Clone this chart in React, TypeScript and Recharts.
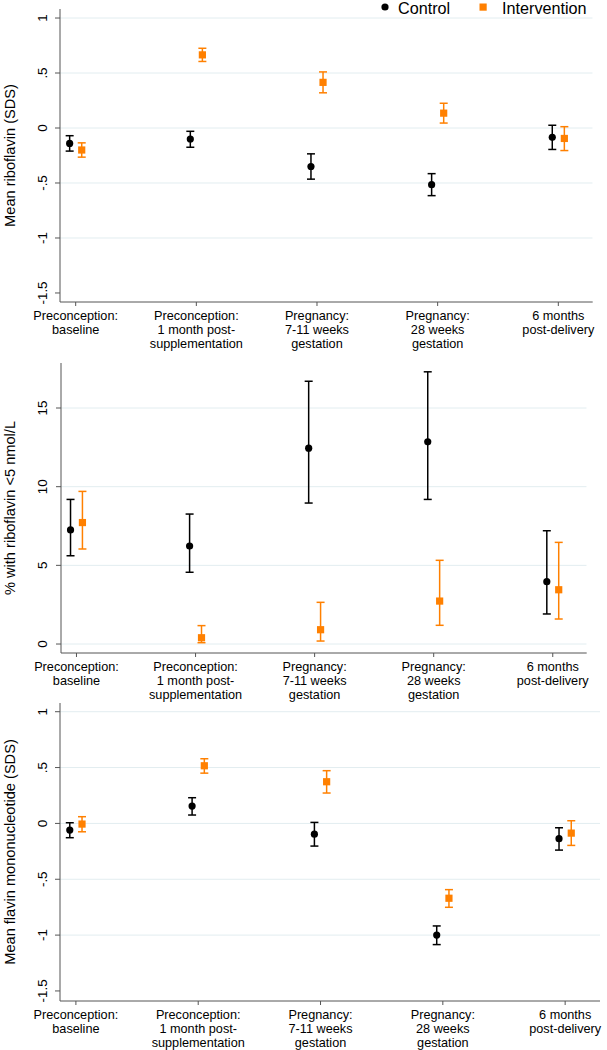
import React from "react";
import { ScatterChart, Scatter, XAxis, YAxis, ErrorBar, ReferenceLine } from "recharts";

// ---- categories / tick labels ----
const categories: string[][] = [
  ["Preconception:", "baseline"],
  ["Preconception:", "1 month post-", "supplementation"],
  ["Pregnancy:", "7-11 weeks", "gestation"],
  ["Pregnancy:", "28 weeks", "gestation"],
  ["6 months", "post-delivery"],
];
const categoryTicks = [1, 2, 3, 4, 5];

// ---- Panel 1: Mean riboflavin (SDS) ----
const riboControlMean = [-0.14, -0.10, -0.35, -0.515, -0.085];
const riboControlLo = [-0.21, -0.175, -0.465, -0.615, -0.195];
const riboControlHi = [-0.07, -0.03, -0.235, -0.415, 0.025];
const riboInterMean = [-0.20, 0.665, 0.415, 0.135, -0.095];
const riboInterLo = [-0.265, 0.605, 0.32, 0.045, -0.205];
const riboInterHi = [-0.135, 0.725, 0.51, 0.225, 0.012];
const sdsTicks = [-1.5, -1, -0.5, 0, 0.5, 1];
const sdsGrid = [-1, -0.5, 0, 0.5, 1];

// ---- Panel 2: % with riboflavin <5 nmol/L ----
const pctControlMean = [7.25, 6.23, 12.45, 12.85, 3.96];
const pctControlLo = [5.61, 4.56, 8.96, 9.19, 1.91];
const pctControlHi = [9.19, 8.26, 16.7, 17.3, 7.2];
const pctInterMean = [7.72, 0.4, 0.91, 2.73, 3.45];
const pctInterLo = [6.04, 0.085, 0.19, 1.19, 1.59];
const pctInterHi = [9.7, 1.17, 2.65, 5.32, 6.46];
const pctTicks = [0, 5, 10, 15];
const pctGrid = [0, 5, 10, 15];

// ---- Panel 3: Mean flavin mononucleotide (SDS) ----
const fmnControlMean = [-0.06, 0.155, -0.096, -1.0, -0.137];
const fmnControlLo = [-0.128, 0.075, -0.203, -1.085, -0.239];
const fmnControlHi = [0.006, 0.23, 0.009, -0.918, -0.039];
const fmnInterMean = [-0.006, 0.516, 0.373, -0.67, -0.087];
const fmnInterLo = [-0.075, 0.45, 0.272, -0.751, -0.197];
const fmnInterHi = [0.06, 0.579, 0.472, -0.593, 0.024];

const CONTROL = "#000000";
const INTERVENTION = "#ff8000";
const AXIS = "#555555";
const GRID = "#e2edf0";
const FONT = "'Liberation Sans', Arial, Helvetica, sans-serif";
const GROUP_OFFSET = 0.05;

function build(mean: number[], lo: number[], hi: number[], offset: number) {
  return mean.map((m, i) => ({
    x: categoryTicks[i] + offset,
    y: m,
    err: [m - lo[i], hi[i] - m],
  }));
}

const fmtSds = (v: number) => {
  if (v === 0) return "0";
  const s = String(v);
  return s.replace(/^(-?)0\./, "$1.");
};

const XTick = (props: any) => {
  const { x, y, payload } = props;
  const lines = categories[Math.round(payload.value) - 1] || [];
  return (
    <g>
      {lines.map((l, i) => (
        <text
          key={i}
          x={x}
          y={y + 13.5 + i * 14.2}
          textAnchor="middle"
          fontSize={12.7}
          fill="#000"
          fontFamily={FONT}
        >
          {l}
        </text>
      ))}
    </g>
  );
};

const makeYTick = (fmt: (v: number) => string) => (props: any) => {
  const { y, payload } = props;
  const bx = 47;
  return (
    <text
      x={bx}
      y={y}
      transform={`rotate(-90 ${bx} ${y})`}
      textAnchor="middle"
      fontSize={13.4}
      fill="#000"
      fontFamily={FONT}
    >
      {fmt(payload.value)}
    </text>
  );
};

const makeYLabel = (title: string) => (props: any) => {
  const vb = props.viewBox || {};
  const cy = (vb.y || 0) + (vb.height || 0) / 2;
  const bx = 15;
  return (
    <text
      x={bx}
      y={cy}
      transform={`rotate(-90 ${bx} ${cy})`}
      textAnchor="middle"
      fontSize={14.6}
      fill="#000"
      fontFamily={FONT}
    >
      {title}
    </text>
  );
};

const CircleShape = (p: any) => <circle cx={p.cx} cy={p.cy} r={3.6} fill={CONTROL} />;
const SquareShape = (p: any) => (
  <rect x={p.cx - 3.6} y={p.cy - 3.6} width={7.2} height={7.2} fill={INTERVENTION} />
);

type PanelProps = {
  top: number;
  height: number;
  marginTop: number;
  marginRight: number;
  yWidth: number;
  xHeight: number;
  domain: [number, number];
  ticks: number[];
  grid: number[];
  fmt: (v: number) => string;
  title: string;
  control: any[];
  inter: any[];
};

function Panel(p: PanelProps) {
  return (
    <div style={{ position: "absolute", left: 0, top: p.top }}>
      <ScatterChart
        width={607}
        height={p.height}
        margin={{ top: p.marginTop, right: p.marginRight, bottom: 0, left: 0 }}
      >
        {p.grid.map((g) => (
          <ReferenceLine key={g} y={g} stroke={GRID} strokeWidth={1} ifOverflow="hidden" />
        ))}
        <XAxis
          type="number"
          dataKey="x"
          domain={[0.87, 5.285]}
          ticks={categoryTicks}
          interval={0}
          allowDataOverflow
          height={p.xHeight}
          tick={<XTick />}
          tickSize={4}
          tickMargin={0}
          stroke={AXIS}
          tickLine={{ stroke: AXIS }}
        />
        <YAxis
          type="number"
          dataKey="y"
          domain={p.domain}
          ticks={p.ticks}
          interval={0}
          allowDataOverflow
          width={p.yWidth}
          tick={makeYTick(p.fmt)}
          tickSize={5}
          tickMargin={0}
          stroke={AXIS}
          tickLine={{ stroke: AXIS }}
          label={{ content: makeYLabel(p.title) } as any}
        />
        <Scatter data={p.control} shape={CircleShape} isAnimationActive={false}>
          <ErrorBar dataKey="err" direction="y" width={4} stroke={CONTROL} strokeWidth={1.5} isAnimationActive={false} />
        </Scatter>
        <Scatter data={p.inter} shape={SquareShape} isAnimationActive={false}>
          <ErrorBar dataKey="err" direction="y" width={4} stroke={INTERVENTION} strokeWidth={1.5} isAnimationActive={false} />
        </Scatter>
      </ScatterChart>
    </div>
  );
}

export default function App() {
  return (
    <div
      style={{
        position: "absolute",
        left: 0,
        top: 0,
        width: 607,
        height: 1050,
        background: "#fff",
        overflow: "hidden",
        fontFamily: FONT,
      }}
    >
      <Panel
        top={0}
        height={356}
        marginTop={9}
        marginRight={14.3}
        yWidth={60}
        xHeight={54}
        domain={[-1.582, 1.082]}
        ticks={sdsTicks}
        grid={sdsGrid}
        fmt={fmtSds}
        title="Mean riboflavin (SDS)"
        control={build(riboControlMean, riboControlLo, riboControlHi, -GROUP_OFFSET)}
        inter={build(riboInterMean, riboInterLo, riboInterHi, GROUP_OFFSET)}
      />
      <Panel
        top={350}
        height={358}
        marginTop={13}
        marginRight={20.3}
        yWidth={61}
        xHeight={55}
        domain={[-0.57, 17.86]}
        ticks={pctTicks}
        grid={pctGrid}
        fmt={(v) => String(v)}
        title="% with riboflavin <5 nmol/L"
        control={build(pctControlMean, pctControlLo, pctControlHi, -GROUP_OFFSET)}
        inter={build(pctInterMean, pctInterLo, pctInterHi, GROUP_OFFSET)}
      />
      <Panel
        top={700}
        height={350}
        marginTop={3}
        marginRight={7}
        yWidth={60}
        xHeight={49}
        domain={[-1.59, 1.078]}
        ticks={sdsTicks}
        grid={sdsGrid}
        fmt={fmtSds}
        title="Mean flavin mononucleotide (SDS)"
        control={build(fmnControlMean, fmnControlLo, fmnControlHi, -GROUP_OFFSET)}
        inter={build(fmnInterMean, fmnInterLo, fmnInterHi, GROUP_OFFSET)}
      />
      <svg
        width={607}
        height={22}
        style={{ position: "absolute", left: 0, top: 0, zIndex: 2 }}
      >
        <circle cx={385} cy={7} r={3.6} fill={CONTROL} />
        <text x={398} y={13.5} fontSize={16.2} fill="#000" fontFamily={FONT}>
          Control
        </text>
        <rect x={479.5} y={3.5} width={7.2} height={7.2} fill={INTERVENTION} />
        <text x={502} y={13.5} fontSize={16.2} fill="#000" fontFamily={FONT}>
          Intervention
        </text>
      </svg>
    </div>
  );
}
